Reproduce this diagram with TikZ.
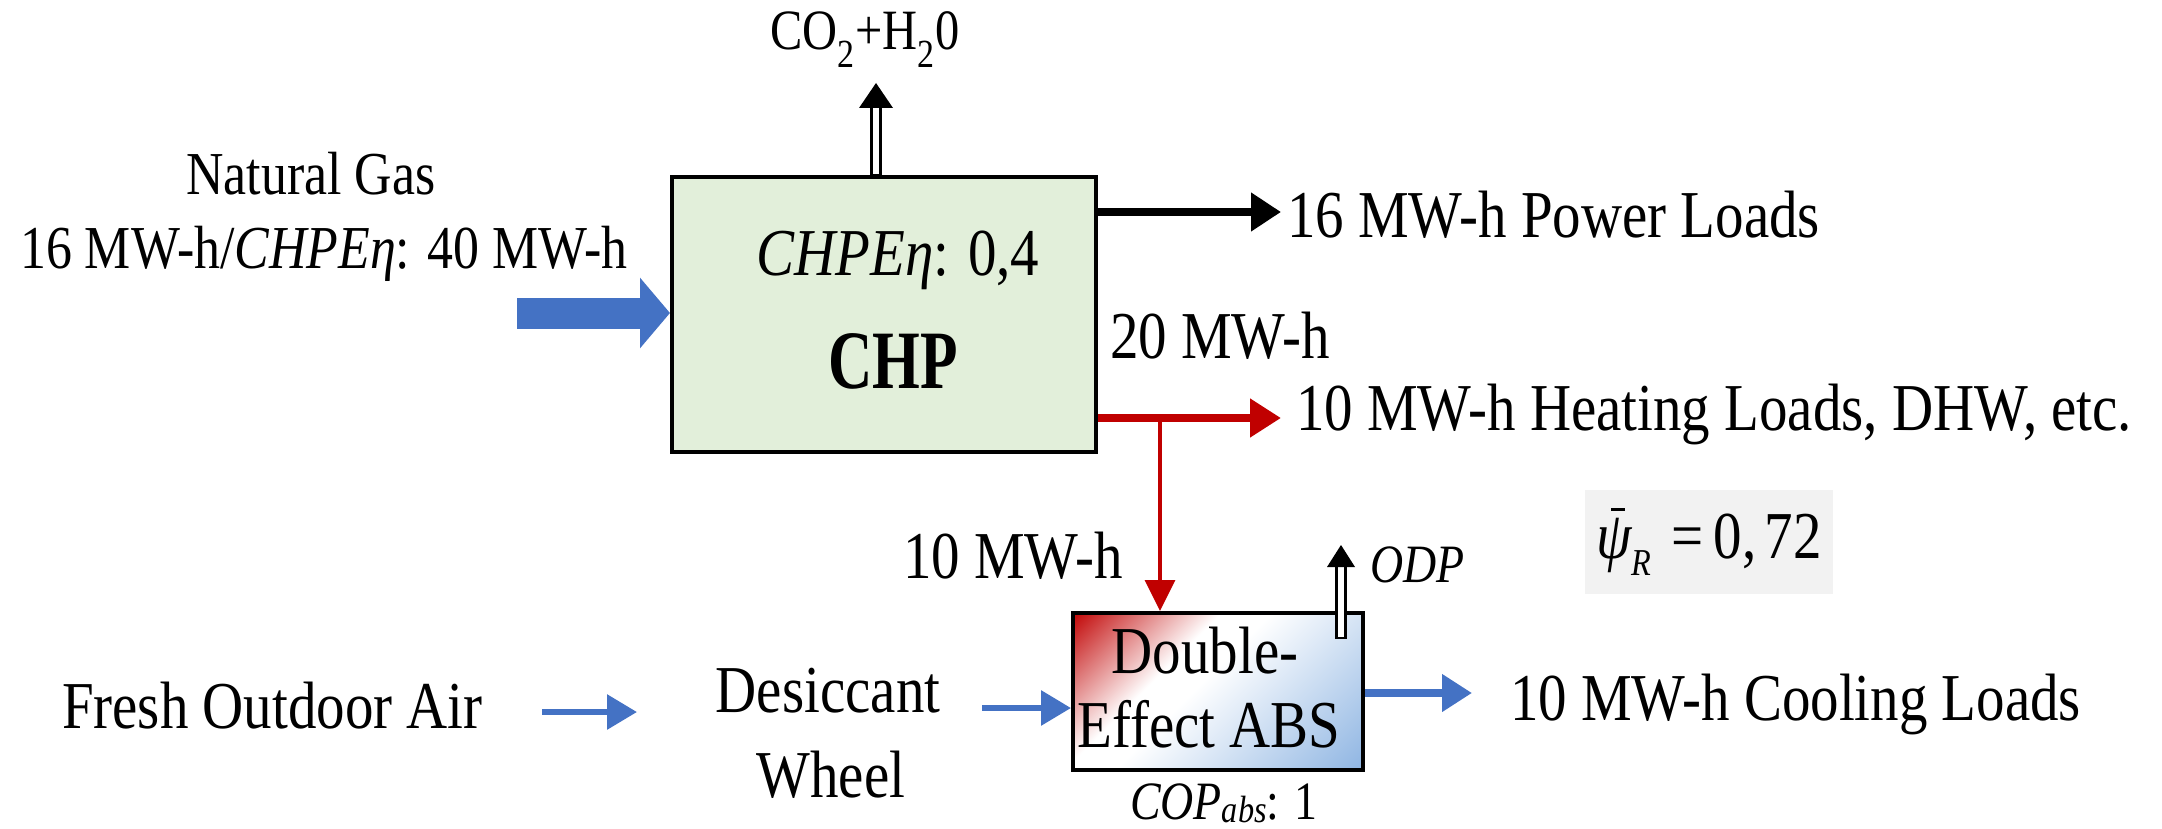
\documentclass[tikz,border=0pt]{standalone}
\usepackage{fontspec}
\usepackage{graphicx}
\setmainfont{Liberation Serif}[FakeStretch=0.85]
\usetikzlibrary{arrows.meta,calc}
\definecolor{chpgreen}{HTML}{E2EFDA}
\definecolor{flowblue}{HTML}{4472C4}
\definecolor{heatred}{HTML}{C00000}
\definecolor{psigray}{HTML}{F2F2F2}
\definecolor{coolblue}{HTML}{8DB4E2}
\pgfdeclarehorizontalshading{absshade}{100bp}{color(0bp)=(heatred); color(14bp)=(heatred); color(38bp)=(white); color(46bp)=(white); color(86bp)=(coolblue); color(100bp)=(coolblue)}
\newcommand\szmain{\fontsize{67}{77}\selectfont}
\newcommand\szleft{\fontsize{61}{72}\selectfont}
\newcommand\szco{\fontsize{57}{66}\selectfont}
\newcommand\szsmall{\fontsize{54}{62}\selectfont}
\newcommand\szsub{\fontsize{38}{44}\selectfont}
\newcommand\szchp{\fontsize{83}{92}\selectfont}
\begin{document}
\begin{tikzpicture}[x=1pt,y=-1pt,
  lbl/.style={inner sep=0pt, outer sep=0pt},
  chpbox/.style={draw, line width=4pt, fill=chpgreen, minimum width=424pt, minimum height=275pt, inner sep=0pt},
  absbox/.style={draw, line width=4pt, shade, shading=absshade, shading angle=-45, minimum width=290pt, minimum height=157pt, inner sep=0pt},
  psibox/.style={fill=psigray, minimum width=248pt, minimum height=104pt, inner sep=0pt},
  blackarr/.style={line width=8pt, -{Triangle[length=30pt,width=37pt]}},
  redarr/.style={heatred, line width=8pt, -{Triangle[length=31pt,width=37pt]}},
  redthin/.style={heatred, line width=3.5pt, -{Triangle[length=31pt,width=30pt]}},
  gasarr/.style={flowblue, line width=31pt, -{Triangle[length=30pt,width=69pt]}},
  thinblue/.style={flowblue, line width=6pt, -{Triangle[length=30pt,width=34pt]}},
  coolarr/.style={flowblue, line width=8pt, -{Triangle[length=30pt,width=36pt]}},
  hollowshaft/.style={draw=black, fill=white, line width=2.5pt}
]
\useasboundingbox (0,0) rectangle (2162,829);

% CHP unit
\node[chpbox] (chp) at (884,314.5) {};
\node[lbl, font=\szmain, anchor=base] (eff) at (898,275) {\textit{CHPEη}: 0,4};
\node[lbl, font=\szchp, anchor=base] (chpl) at (893,388) {\scalebox{0.87}[1]{\bfseries CHP}};

% exhaust
\coordinate (co2tip) at (876,83);
\draw[hollowshaft] ($(chp.north -| co2tip)+(-4.5,0)$) rectangle ($(co2tip)+(4.5,22)$);
\fill (co2tip) -- ++(-17,25) -- ++(34,0) -- cycle;
\node[lbl, font=\szco, anchor=base] (co2) at (865,50) {CO\textsubscript{2}+H\textsubscript{2}0};

% natural gas input
\node[lbl, font=\szleft, anchor=base] (ng) at (311,195) {Natural Gas};
\node[lbl, font=\szleft, anchor=base] (ngval) at (324,268) {16 MW-h/\textit{CHPEη}: 40 MW-h};
\coordinate (ngs) at (517,313);
\draw[gasarr] (ngs) -- (ngs -| chp.west);

% power output
\coordinate (pl) at (1281,212);
\draw[blackarr] (chp.east |- pl) -- (pl);
\node[lbl, font=\szmain, anchor=base west] (pwr) at (1287,237) {16 MW-h Power Loads};

% heat output
\node[lbl, font=\szmain, anchor=base west] (q20) at (1110,358) {20 MW-h};
\coordinate (hl) at (1281,418);
\draw[redarr] (chp.east |- hl) -- (hl);
\node[lbl, font=\szmain, anchor=base west] (heat) at (1296,430) {10 MW-h Heating Loads, DHW, etc.};

% absorption chiller
\node[absbox] (abs) at (1218,691.5) {};
\coordinate (split) at (1160,418);
\draw[redthin] (split) -- (split |- abs.north);
\node[lbl, font=\szmain, anchor=base west] (q10) at (903,578) {10 MW-h};
\node[lbl, font=\szmain, anchor=base] (abs1) at (1205,673) {Double-};
\node[lbl, font=\szmain, anchor=base] (abs2) at (1209,747) {Effect ABS};
\node[lbl, font=\szsmall, anchor=base] (cop) at (1224,819) {\textit{COP}\raisebox{-0.07em}{\szsub\itshape abs}: 1};

% ODP
\coordinate (odptip) at (1341,545);
\coordinate (odpbot) at (1341,638);
\draw[hollowshaft] ($(odpbot)+(-4.5,0)$) rectangle ($(odptip)+(4.5,18)$);
\fill (odptip) -- ++(-14,22) -- ++(28,0) -- cycle;
\node[lbl, font=\szsmall, anchor=base west] (odp) at (1370,582) {\textit{ODP}};

% index
\node[psibox, font=\szmain] (psi) at (1709,541.5) {{\itshape\rlap{\hspace{0.22em}\raisebox{0.72em}{\rule{0.2em}{0.045em}}}ψ}\raisebox{-0.25em}{\szsub\itshape R}\hspace{0.3em}=\hspace{0.15em}0,\hspace{0.12em}72};

% cooling output
\coordinate (cl) at (1472,693);
\draw[coolarr] (abs.east |- cl) -- (cl);
\node[lbl, font=\szmain, anchor=base west] (cool) at (1510,720) {10 MW-h Cooling Loads};

% air path
\node[lbl, font=\szmain, anchor=base west] (fresh) at (62,728) {Fresh Outdoor Air};
\coordinate (a1s) at (542,712);
\coordinate (a1e) at (637,712);
\draw[thinblue] (a1s) -- (a1e);
\node[lbl, font=\szmain, anchor=base] (dw1) at (828,712) {Desiccant};
\node[lbl, font=\szmain, anchor=base] (dw2) at (831,797) {Wheel};
\coordinate (a2s) at (982,708);
\draw[thinblue] (a2s) -- (a2s -| abs.west);
\end{tikzpicture}
\end{document}
